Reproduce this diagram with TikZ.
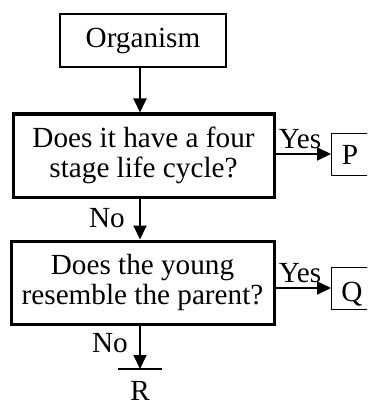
\documentclass[tikz,border=0pt]{standalone}
\usepackage{fontspec}
\setmainfont{Liberation Serif}
\usetikzlibrary{arrows.meta}
\begin{document}
\begin{tikzpicture}[x=1pt,y=-1pt,
  every node/.style={font=\fontsize{29.2}{30}\selectfont, inner sep=0pt},
  thinbox/.style={draw, line width=2pt},
  thickbox/.style={draw, line width=3pt},
  leafbox/.style={draw, line width=1pt},
  conn/.style={line width=2pt, -{Triangle[length=14pt,width=13pt]}},
  lbl/.style={anchor=base}]
\useasboundingbox (0,0) rectangle (367,409);
\clip (0,0) rectangle (367,409);
\fill[white] (0,0) rectangle (367,409);
% nodes
\node[thinbox, minimum width=166pt, minimum height=53pt] (org) at (143,40.5) {Organism};
\node[thickbox, minimum width=261pt, minimum height=83pt, align=center] (q1) at (143.5,155.5) {Does it have a four\\stage life cycle?};
\node[thickbox, minimum width=263pt, minimum height=83pt, align=center] (q2) at (142.5,282.5) {Does the young\\resemble the parent?};
\node[leafbox, minimum width=44pt, minimum height=42pt, anchor=west] (p) at (331,154) {};
\node[anchor=base] (pt) at (350,164) {P};
\node[leafbox, minimum width=44pt, minimum height=42pt, anchor=west] (q) at (331,288) {};
\node[anchor=base] (qt) at (352,301) {Q};
\coordinate (bar) at (140,369);
\coordinate (barl) at (118,369);
\coordinate (barr) at (162,369);
\node[anchor=base] (r) at (140,400) {R};
% connectors
\draw[conn] (org.south -| bar) -- (q1.north -| bar);
\draw[conn] (q1.south -| bar) -- (q2.north -| bar);
\draw[conn] (q2.south -| bar) -- (bar);
\draw[line width=2pt] (barl) -- (barr);
\draw[conn] (q1.east |- p.west) -- (p.west);
\draw[conn] (q2.east |- q.west) -- (q.west);
% labels
\node[lbl] (y1) at (300,148) {Yes};
\node[lbl] (y2) at (300,282) {Yes};
\node[lbl] (n1) at (107,227) {No};
\node[lbl] (n2) at (110,352) {No};
\end{tikzpicture}
\end{document}
